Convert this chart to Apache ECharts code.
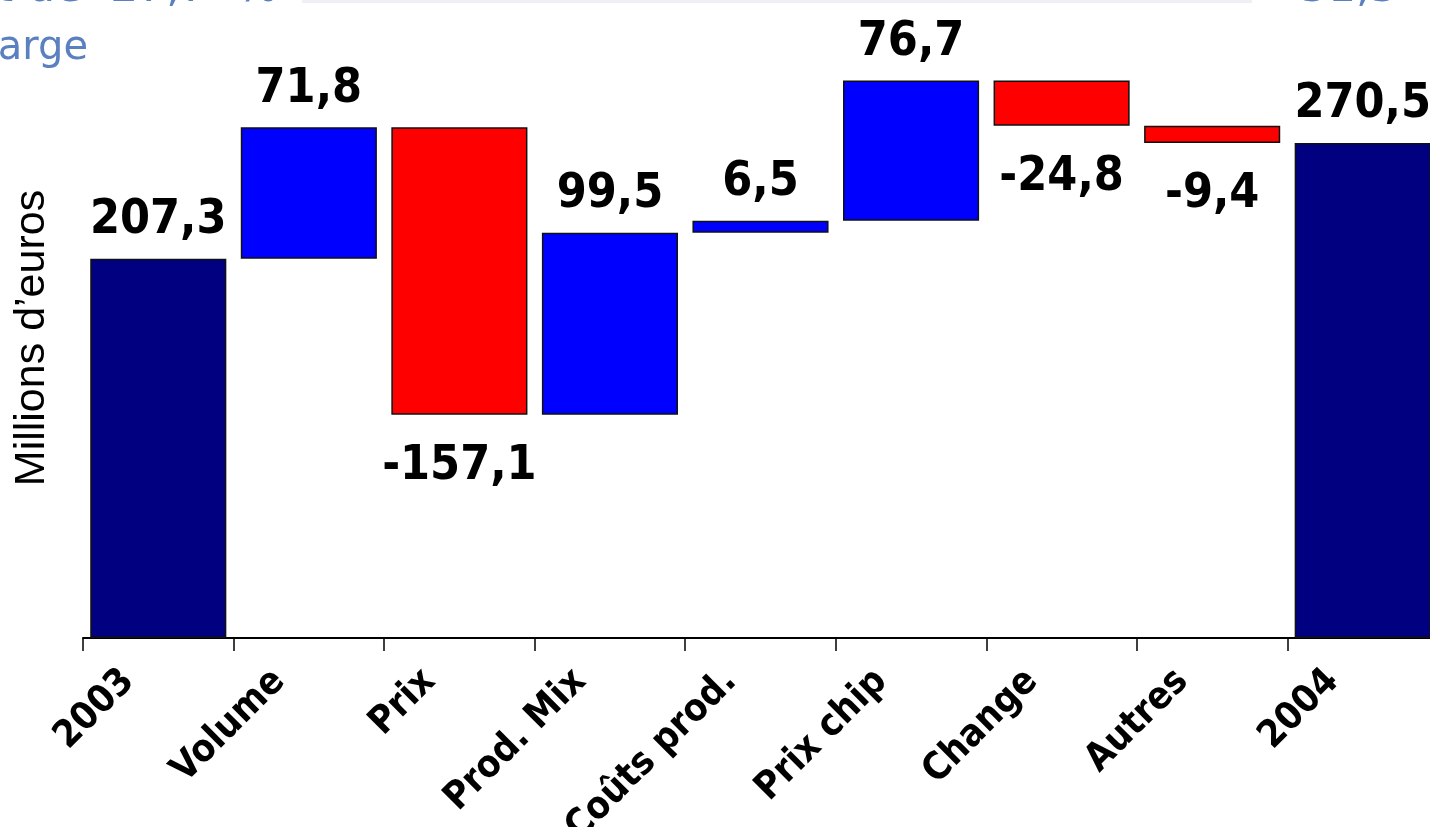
<!DOCTYPE html>
<html>
<head>
<meta charset="utf-8">
<script src="https://cdn.jsdelivr.net/npm/echarts@6/dist/echarts.min.js"></script>
<style>
  html, body { margin: 0; padding: 0; background: #ffffff; }
  #chart { width: 1430px; height: 827px; }
</style>
</head>
<body>
<div id="chart"></div>
<script>
// Bridge of operating result, 2003 -> 2004 (millions of euros)
const categories = ['2003', 'Volume', 'Prix', 'Prod. Mix', 'Coûts prod.', 'Prix chip', 'Change', 'Autres', '2004'];
const values = [207.3, 71.8, -157.1, 99.5, 6.5, 76.7, -24.8, -9.4, 270.5];
const isTotal = [true, false, false, false, false, false, false, false, true];

const yAxisTitle = 'Millions d\u2019euros';
const headerLine1 = 't de  27,7  %';
const headerLine2 = 'arge';
const headerRight = '31,3';

const COLOR_TOTAL = '#000080';
const COLOR_UP = '#0000ff';
const COLOR_DOWN = '#ff0000';
const LABEL_FONT = '"DejaVu Sans Condensed", "DejaVu Sans", sans-serif';
const HEADER_BLUE = '#5a80c0';

// Floating bars: an invisible base segment plus the visible step
const baseData = [];
const stepData = [];
let level = 0;
values.forEach((v, i) => {
  let base, height, color;
  if (isTotal[i]) {
    base = 0; height = v; level = v; color = COLOR_TOTAL;
  } else {
    const end = level + v;
    base = Math.min(level, end);
    height = Math.abs(v);
    level = end;
    color = v >= 0 ? COLOR_UP : COLOR_DOWN;
  }
  baseData.push(base);
  stepData.push({
    value: height,
    itemStyle: { color: color },
    label: v >= 0
      ? { position: 'top', distance: 14 }
      : { position: 'bottom', distance: 28 }
  });
});

const fmt = v => v.toFixed(1).replace('.', ',');

const chart = echarts.init(document.getElementById('chart'), null, { renderer: 'canvas' });

chart.setOption({
  animation: false,
  backgroundColor: '#ffffff',
  grid: {
    left: 83, top: 15.8, width: 1355, height: 622.2,
    containLabel: false,
    outerBoundsMode: 'none'
  },
  xAxis: {
    type: 'category',
    data: categories,
    axisLine: { show: true, lineStyle: { color: '#000000', width: 2 } },
    axisTick: { show: true, length: 13, lineStyle: { color: '#000000', width: 1.5 } },
    axisLabel: {
      interval: 0,
      rotate: 45,
      margin: 8,
      padding: [0, 42, 0, 0],
      color: '#000000',
      fontFamily: LABEL_FONT,
      fontWeight: 'bold',
      fontSize: 38
    }
  },
  yAxis: {
    type: 'value',
    min: 0,
    max: 340,
    axisLine: { show: false },
    axisTick: { show: false },
    axisLabel: { show: false },
    splitLine: { show: false }
  },
  series: [
    {
      name: 'base',
      type: 'bar',
      stack: 'bridge',
      silent: true,
      barCategoryGap: '9.6%',
      itemStyle: { color: 'rgba(0,0,0,0)', borderWidth: 0 },
      data: baseData
    },
    {
      name: 'variation',
      type: 'bar',
      stack: 'bridge',
      barCategoryGap: '9.6%',
      itemStyle: { borderColor: '#111111', borderWidth: 1.5 },
      label: {
        show: true,
        color: '#000000',
        fontFamily: LABEL_FONT,
        fontWeight: 'bold',
        fontSize: 48,
        formatter: p => fmt(values[p.dataIndex])
      },
      data: stepData
    }
  ],
  graphic: [
    {
      type: 'text', x: 32, y: 338, rotation: Math.PI / 2,
      style: {
        text: yAxisTitle, fill: '#000000',
        font: '43px "Liberation Sans", Arial, sans-serif',
        align: 'center', verticalAlign: 'middle'
      }
    },
    {
      type: 'rect', shape: { x: 302, y: -20, width: 950, height: 23 },
      style: { fill: '#eef0f6' }
    },
    {
      type: 'text', x: -4, y: -10,
      style: {
        text: headerLine1, fill: HEADER_BLUE,
        font: '44px "DejaVu Sans", sans-serif',
        align: 'left', verticalAlign: 'middle'
      }
    },
    {
      type: 'text', x: 88, y: 49,
      style: {
        text: headerLine2, fill: HEADER_BLUE,
        font: '40px "DejaVu Sans", sans-serif',
        align: 'right', verticalAlign: 'middle'
      }
    },
    {
      type: 'text', x: 1300, y: -10,
      style: {
        text: headerRight, fill: HEADER_BLUE,
        font: '44px "DejaVu Sans", sans-serif',
        align: 'left', verticalAlign: 'middle'
      }
    }
  ]
});
</script>
</body>
</html>
